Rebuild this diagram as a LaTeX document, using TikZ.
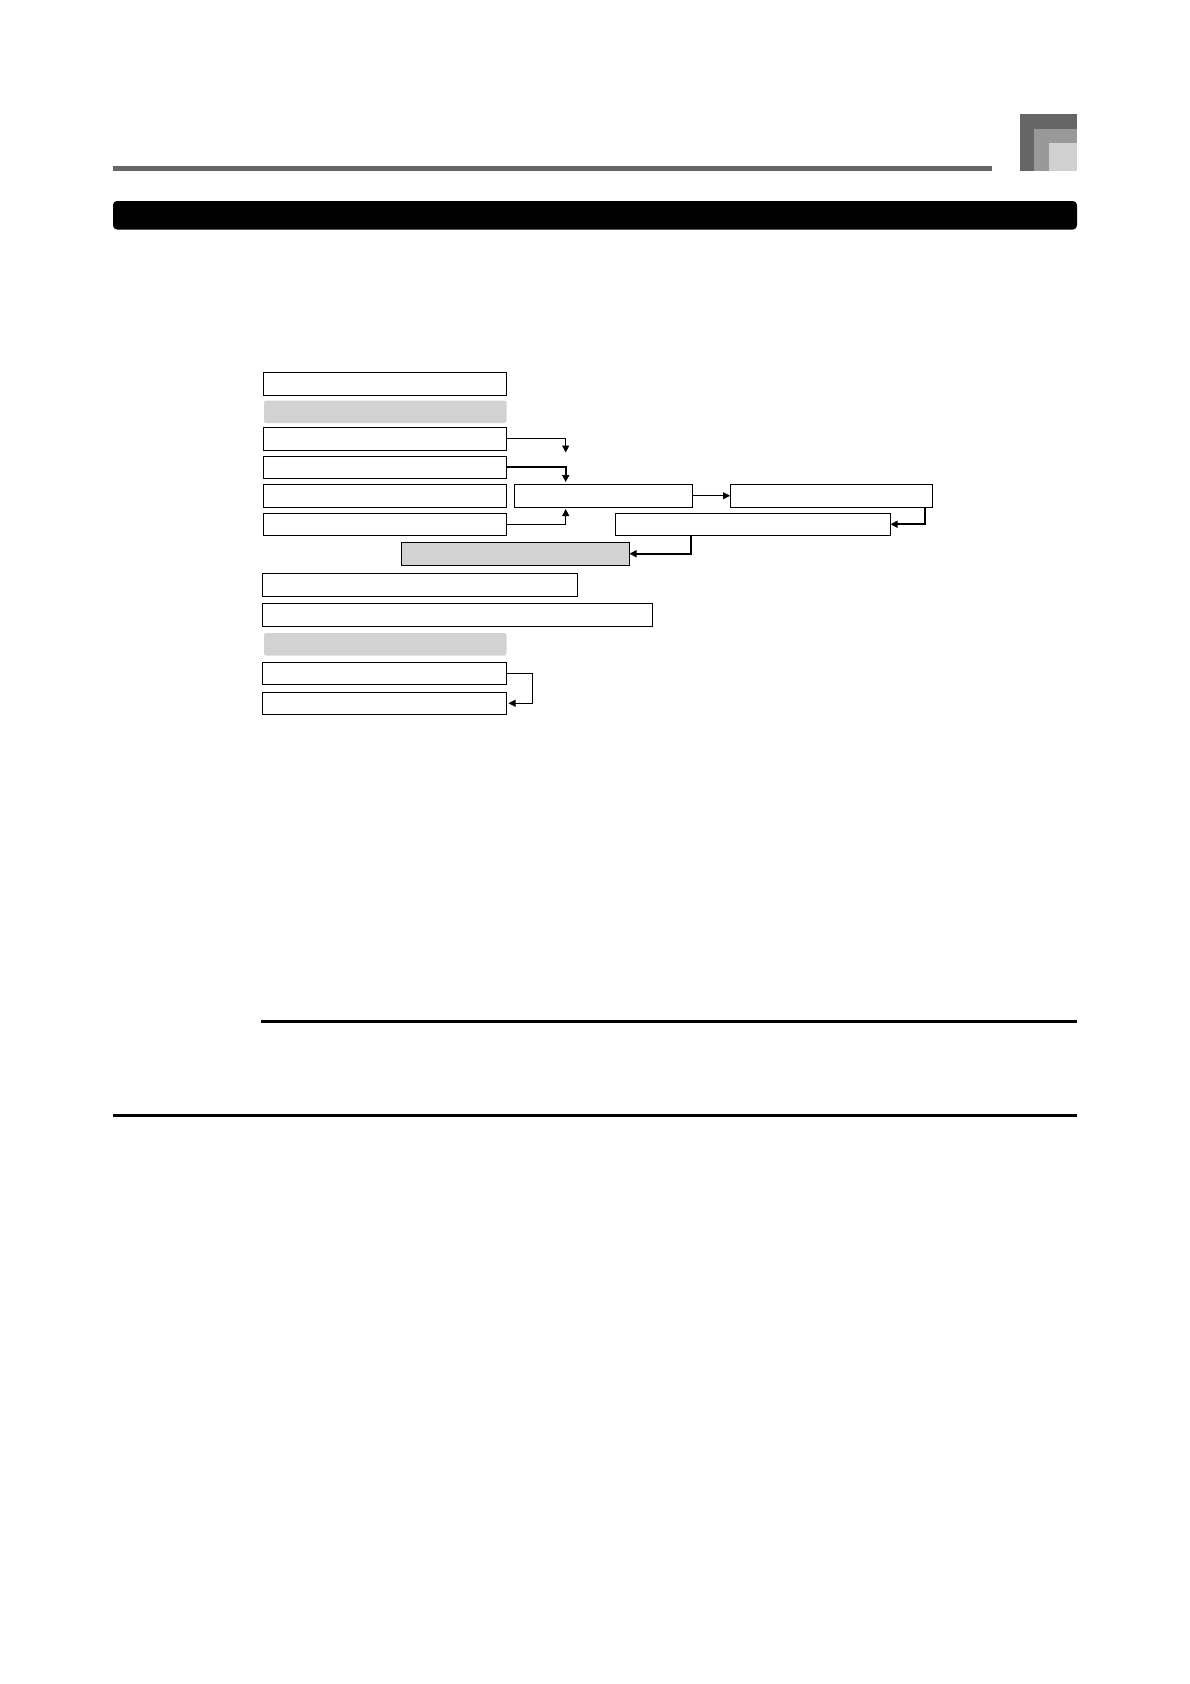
\documentclass[tikz,border=0pt]{standalone}
\usetikzlibrary{arrows.meta}
\definecolor{headdark}{HTML}{666666}
\definecolor{headmid}{HTML}{999999}
\definecolor{headlight}{HTML}{D0D0D0}
\definecolor{boxgray}{HTML}{D2D2D2}
\tikzset{
  box/.style={draw=black, line width=1pt, fill=white, inner sep=0pt, outer sep=0pt, anchor=north west, minimum height=22.5pt},
  graybox/.style={box, fill=boxgray},
  tabbox/.style={fill=boxgray, rounded corners=2pt, inner sep=0pt, outer sep=0pt, anchor=north west, minimum height=22.5pt},
  flow/.style={-{Triangle[length=7pt,width=7pt]}, line width=0.9pt},
  flowthick/.style={flow, line width=1.6pt}
}
\begin{document}
\begin{tikzpicture}[x=1pt,y=-1pt]
        \useasboundingbox (0,0) rectangle (1190,1684);
        % page header
        \fill[headdark] (113,166) rectangle (992,171);
        \fill[headdark] (1020,114) rectangle (1077,171);
        \fill[headmid] (1034,129) rectangle (1077,171);
        \fill[headlight] (1049,143) rectangle (1077,171);
        \fill[black, rounded corners=4pt] (113,201) rectangle (1077,229.5);

        % left column
        \node[box, minimum width=243pt] (r1) at (263.5,372.5) {};
        \node[tabbox, minimum width=242.5pt] (r2) at (264,400.5) {};
        \foreach \n/\y in {r3/427.5, r4/456, r5/484.5, r6/513}
            \node[box, minimum width=243pt] (\n) at (263.5,\y) {};

        % middle and right
        \node[box, minimum width=178pt] (a) at (514.5,484.5) {};
        \node[box, minimum width=202pt] (b) at (730,484.5) {};
        \node[box, minimum width=275pt] (c) at (615.5,513) {};
        \node[graybox, minimum width=228pt] (d) at (401.5,542.5) {};

        \node[box, minimum width=315pt] (r8) at (262.5,573.5) {};
        \node[box, minimum width=390pt] (r9) at (262.5,603.5) {};
        \node[tabbox, minimum width=242.5pt] (r10) at (264,633) {};
        \node[box, minimum width=244pt] (r11) at (262.5,662) {};
        \node[box, minimum width=244pt] (r12) at (262.5,692) {};

        \coordinate (t1) at (565.7,452.5);
        \coordinate (t2) at (565.7,482);
        \coordinate (t3) at (565.7,509);

        \draw[flow] (r3.east) -| (t1);
        \draw[flowthick] (r4.east) -| (t2);
        \draw[flow] (r6.east) -| (t3);
        \draw[flow] (a.east) -- (b.west);
        \draw[flowthick] ([xshift=-7pt]b.south east) |- (c.east);
        \draw[flowthick] ([xshift=75.5pt]c.south west) |- (d.east);
        \draw[flow] (r11.east) -- ++(25.8,0) |- ([xshift=2pt]r12.east);

        % rules at the bottom
        \fill[black] (260.7,1020) rectangle (1077,1023);
        \fill[black] (113,1114) rectangle (1077,1117);
\end{tikzpicture}
\end{document}
